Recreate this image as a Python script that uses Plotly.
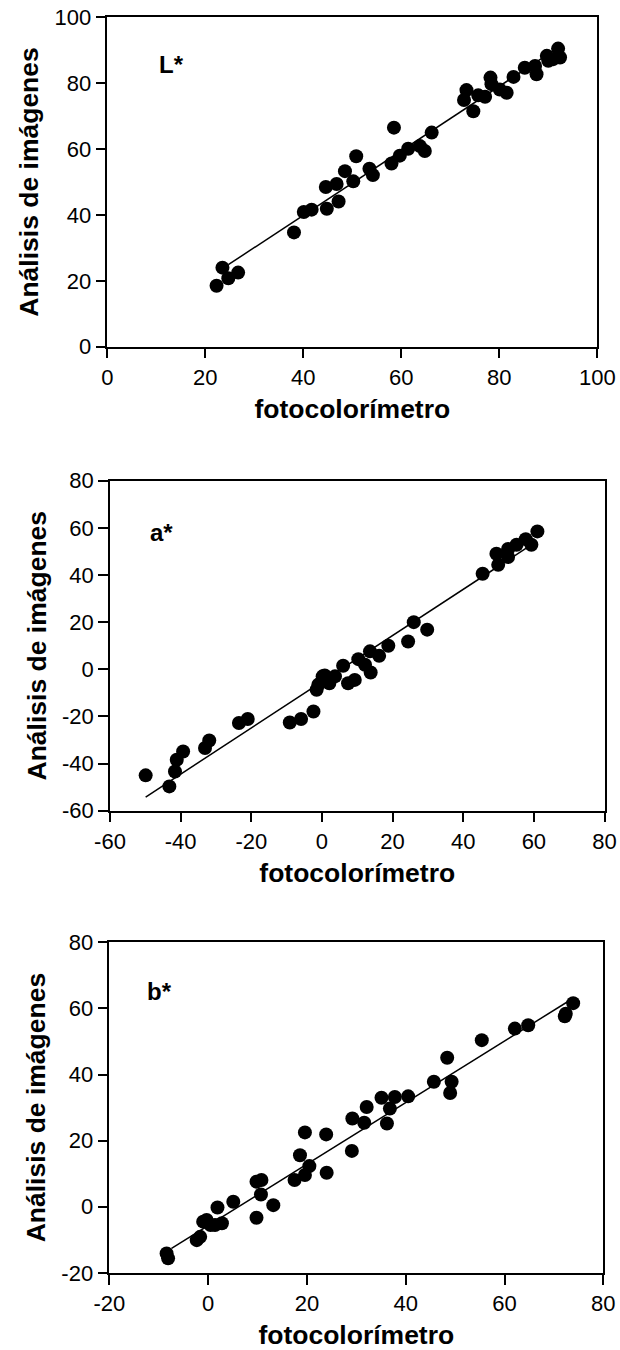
import plotly.graph_objects as go

FONT = "Liberation Sans, Arial, sans-serif"

# ---------------- L* panel ----------------
L_x = [22.3, 23.5, 24.7, 26.7, 38.1, 40.1, 41.7, 44.8, 44.6, 46.8, 47.2, 48.5, 50.2, 50.8,
       53.5, 54.2, 58.0, 58.5, 59.7, 61.4, 63.8, 64.8, 66.2, 72.8, 73.3, 74.7, 75.7, 77.1,
       78.2, 78.4, 80.1, 81.5, 82.9, 85.2, 87.6, 87.3, 89.7, 90.0, 92.0, 92.4, 91.0]
L_y = [18.5, 24.0, 20.8, 22.5, 34.7, 40.9, 41.6, 41.9, 48.5, 49.4, 44.1, 53.3, 50.2, 57.8,
       54.0, 52.1, 55.6, 66.5, 58.0, 60.1, 60.9, 59.4, 65.0, 74.9, 77.9, 71.5, 76.3, 75.9,
       81.7, 79.7, 78.1, 77.1, 81.9, 84.7, 82.7, 85.2, 88.3, 86.8, 90.5, 87.8, 87.3]
L_fit_x = [24.7, 92.4]
L_fit_y = [24.9, 91.2]
L_xticks = [0, 20, 40, 60, 80, 100]
L_xticktext = ["0", "20", "40", "60", "80", "100"]
L_yticks = [0, 20, 40, 60, 80, 100]
L_yticktext = ["0", "20", "40", "60", "80", "100"]

# ---------------- a* panel ----------------
a_x = [-49.9, -43.2, -41.6, -41.1, -39.3, -33.1, -31.9, -23.5, -21.0, -9.1, -5.9, -2.4,
       -1.5, -1.0, 0.2, 0.8, 2.1, 3.7, 6.0, 7.4, 9.3, 10.3, 12.2, 13.8, 13.6, 16.2, 18.8,
       24.4, 26.0, 29.8, 45.5, 49.4, 49.9, 52.7, 52.7, 55.1, 57.7, 59.3, 61.0]
a_y = [-45.0, -49.7, -43.4, -38.4, -34.9, -33.4, -30.2, -22.8, -21.1, -22.6, -21.1, -17.9,
       -8.7, -6.5, -3.0, -2.6, -5.9, -3.0, 1.5, -5.9, -4.5, 4.3, 1.9, -1.4, 7.6, 5.7, 10.0,
       11.8, 20.0, 16.8, 40.5, 49.0, 44.3, 47.6, 51.0, 52.8, 55.2, 52.8, 58.5]
a_fit_x = [-49.9, 60.0]
a_fit_y = [-54.2, 53.5]
a_xticks = [-60, -40, -20, 0, 20, 40, 60, 80]
a_xticktext = ["-60", "-40", "-20", "0", "20", "40", "60", "80"]
a_yticks = [-60, -40, -20, 0, 20, 40, 60, 80]
a_yticktext = ["-60", "-40", "-20", "0", "20", "40", "60", "80"]

# ---------------- b* panel ----------------
b_x = [-8.4, -8.1, -2.3, -1.6, -1.0, -0.3, 0.5, 1.4, 2.8, 1.9, 5.1, 9.8, 9.8, 10.8, 10.7,
       13.2, 17.5, 18.6, 19.6, 19.6, 20.5, 23.9, 24.0, 29.1, 29.2, 31.6, 32.1, 35.1, 36.2,
       36.8, 37.8, 40.5, 45.7, 48.4, 49.3, 49.0, 55.4, 62.1, 64.8, 72.2, 72.4, 73.9]
b_y = [-14.1, -15.6, -10.1, -9.1, -4.5, -4.0, -5.5, -5.5, -5.0, -0.2, 1.5, -3.3, 7.6, 8.1,
       3.7, 0.5, 8.1, 15.6, 22.5, 9.6, 12.3, 21.9, 10.3, 16.9, 26.7, 25.4, 30.2, 33.0, 25.2,
       29.7, 33.2, 33.4, 37.8, 45.1, 37.8, 34.4, 50.4, 53.9, 54.9, 57.6, 58.4, 61.6]
b_fit_x = [-7.4, 73.5]
b_fit_y = [-12.6, 62.7]
b_xticks = [-20, 0, 20, 40, 60, 80]
b_xticktext = ["-20", "0", "20", "40", "60", "80"]
b_yticks = [-20, 0, 20, 40, 60, 80]
b_yticktext = ["-20", "0", "20", "40", "60", "80"]

panel_labels = ["L*", "a*", "b*"]
x_title = "fotocolorímetro"
y_title = "Análisis de imágenes"

W, H = 620, 1350

panels = [
    dict(x=L_x, y=L_y, fx=L_fit_x, fy=L_fit_y, xt=L_xticks, xtt=L_xticktext,
         yt=L_yticks, ytt=L_yticktext, xr=[0, 100], yr=[0, 100],
         px=(107.3, 597.3), py=(17.3, 346.7), lab=(10.1, 85.6), ystand=8, xstand=11),
    dict(x=a_x, y=a_y, fx=a_fit_x, fy=a_fit_y, xt=a_xticks, xtt=a_xticktext,
         yt=a_yticks, ytt=a_yticktext, xr=[-60, 80], yr=[-60, 80],
         px=(110.0, 604.5), py=(480.7, 810.7), lab=(-49.2, 58.2), ystand=8, xstand=11),
    dict(x=b_x, y=b_y, fx=b_fit_x, fy=b_fit_y, xt=b_xticks, xtt=b_xticktext,
         yt=b_yticks, ytt=b_yticktext, xr=[-20, 80], yr=[-20, 80],
         px=(109.3, 603.3), py=(942.3, 1272.9), lab=(-12.8, 65.2), ystand=8, xstand=11),
]

fig = go.Figure()
layout = dict(
    width=W, height=H,
    margin=dict(l=0, r=0, t=0, b=0),
    paper_bgcolor="white", plot_bgcolor="white",
    showlegend=False,
    font=dict(family=FONT, color="black"),
    annotations=[],
)

for i, p in enumerate(panels):
    n = "" if i == 0 else str(i + 1)
    xa, ya = "x" + n, "y" + n
    fig.add_trace(go.Scatter(x=p["fx"], y=p["fy"], mode="lines",
                             line=dict(color="black", width=1.5),
                             xaxis=xa, yaxis=ya, hoverinfo="skip"))
    fig.add_trace(go.Scatter(x=p["x"], y=p["y"], mode="markers",
                             marker=dict(color="black", size=14, line=dict(width=0)),
                             xaxis=xa, yaxis=ya))
    common = dict(showgrid=False, zeroline=False, showline=True, linecolor="black",
                  linewidth=1.5, mirror=True, ticks="outside", ticklen=10, tickwidth=1.5,
                  tickcolor="black", automargin=False, ticklabeloverflow="allow",
                  tickfont=dict(family=FONT, size=22, color="black"))
    x0, x1 = p["px"][0] / W, p["px"][1] / W
    y0, y1 = 1 - p["py"][1] / H, 1 - p["py"][0] / H
    layout["xaxis" + n] = dict(
        common, domain=[x0, x1], range=p["xr"],
        tickmode="array", tickvals=p["xt"], ticktext=p["xtt"], anchor=ya,
        title=dict(text=x_title, standoff=p["xstand"],
                   font=dict(family=FONT, size=26.5, weight="bold", color="black")))
    layout["yaxis" + n] = dict(
        common, domain=[y0, y1], range=p["yr"],
        tickmode="array", tickvals=p["yt"], ticktext=p["ytt"], anchor=xa,
        title=dict(text=y_title, standoff=p["ystand"],
                   font=dict(family=FONT, size=26.5, weight="bold", color="black")))
    layout["annotations"].append(dict(
        text=panel_labels[i], x=p["lab"][0], y=p["lab"][1], xref=xa, yref=ya,
        xanchor="left", yanchor="middle", showarrow=False,
        font=dict(family=FONT, size=24, weight="bold", color="black")))

fig.update_layout(**layout)
# remove the page's default 8px body margin so the figure fills the window exactly
fig.write_html("out.html",
               config={"displayModeBar": False},
               post_script="document.body.style.margin='0px';document.body.style.overflow='hidden';")
